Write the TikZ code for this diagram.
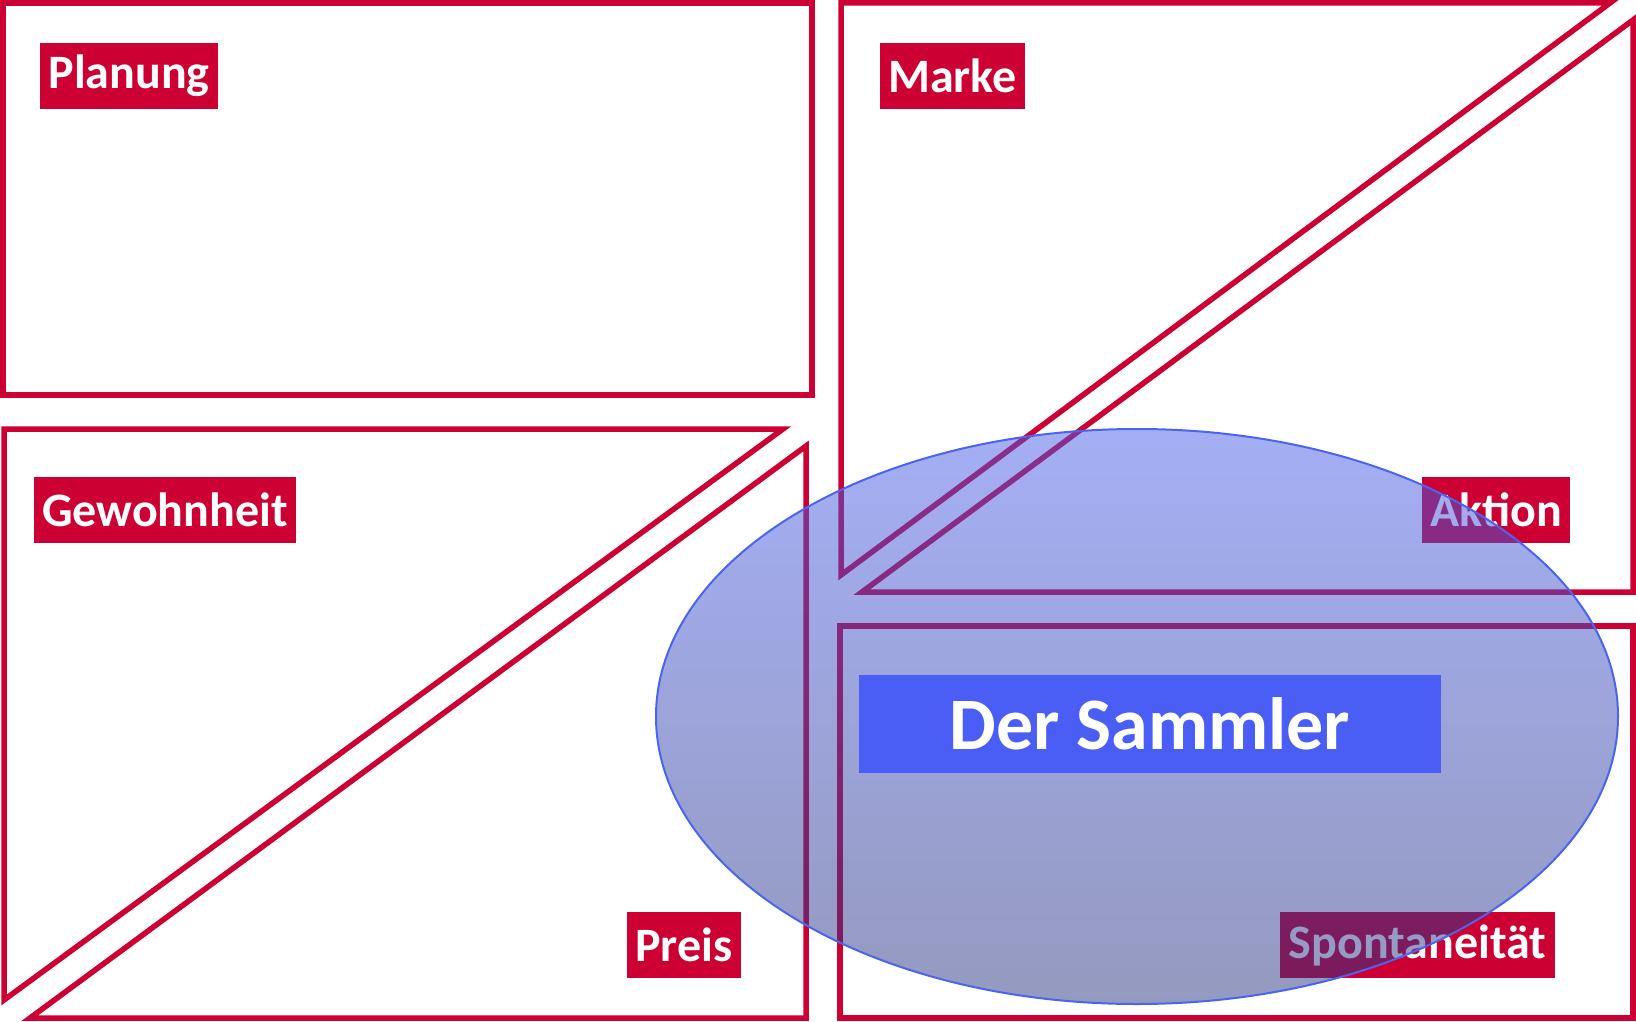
\documentclass[tikz,border=0pt]{standalone}
\usepackage{fontspec}
\setmainfont{Carlito}
\usetikzlibrary{shapes.geometric}
\definecolor{brandred}{HTML}{CC0033}
\definecolor{cloudtop}{HTML}{4A5EEB}
\definecolor{cloudbottom}{HTML}{2A347F}
\definecolor{cloudline}{HTML}{4A64F0}
\definecolor{titleblue}{HTML}{4A5EF5}
\tikzset{
  frame/.style={draw=brandred, line width=5.5pt, fill=none},
  tag/.style={fill=brandred, text=white, font=\bfseries\fontsize{48}{54}\selectfont,
    inner sep=0pt, minimum height=66pt, anchor=center},
  title/.style={fill=titleblue, text=white, font=\bfseries\fontsize{74}{82}\selectfont,
    inner sep=0pt, minimum width=582pt, minimum height=98pt, anchor=center},
  cloud/.style={ellipse, draw=cloudline, line width=2pt, top color=cloudtop,
    bottom color=cloudbottom, fill opacity=0.5, draw opacity=1,
    minimum width=962pt, minimum height=575pt, inner sep=0pt}
}
\begin{document}
\begin{tikzpicture}[x=1pt, y=-1pt]
  \useasboundingbox (0,0) rectangle (1636,1022);

  % quadrant frames
  \draw[frame] (3,3) rectangle (812,395);
  \draw[frame] (841,3) -- (1610,3) -- (841,575) -- cycle;
  \draw[frame] (1633,20) -- (1633,592) -- (862,592) -- cycle;
  \draw[frame] (4,429) -- (783,429) -- (4,1000) -- cycle;
  \draw[frame] (806,446) -- (806,1018) -- (30,1018) -- cycle;
  \draw[frame] (840,626) rectangle (1633,1018);

  % quadrant tags
  \node[tag, minimum width=178pt] (planung) at (129,76) {Planung};
  \node[tag, minimum width=145pt] (marke) at (952.5,76) {Marke};
  \node[tag, minimum width=262pt] (gewohnheit) at (165,510) {Gewohnheit};
  \node[tag, minimum width=148pt] (aktion) at (1496,510) {Aktion};
  \node[tag, minimum width=114pt] (preis) at (684,944.5) {Preis};
  \node[tag, minimum width=275pt] (spontan) at (1417.5,945) {Spontaneität};

  % segment cloud
  \node[cloud] (segment) at (1137,716.5) {};

  \node[title] (sammler) at (1150,724) {Der Sammler};
\end{tikzpicture}
\end{document}
